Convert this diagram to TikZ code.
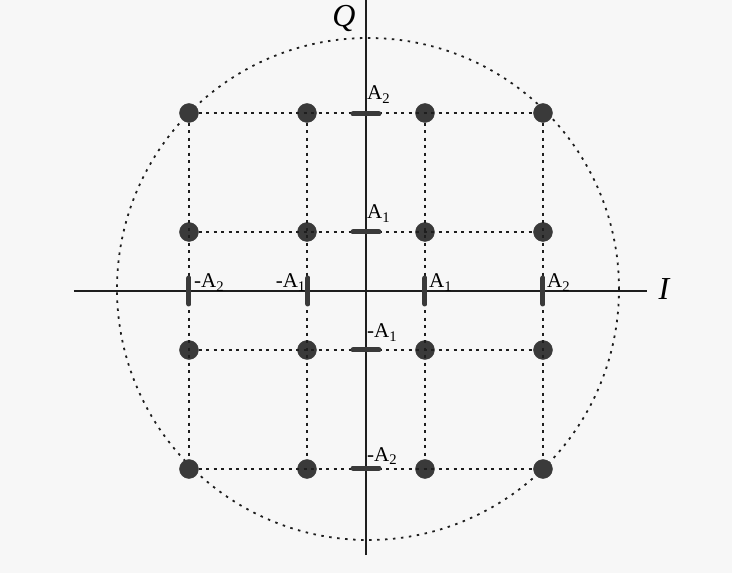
\documentclass[tikz,border=0pt]{standalone}
\usepackage{fontspec}
\setmainfont{Liberation Serif}
\begin{document}
\begin{tikzpicture}[x=1pt,y=1pt,
  dotpt/.style={circle,fill=ptcol,draw=ptcol,minimum size=19pt,inner sep=0pt},
  grid/.style={line width=1.8pt,dash pattern=on 3pt off 4.5pt,draw=lncol},
  ring/.style={line width=1.8pt,dash pattern=on 2.5pt off 5.5pt,draw=lncol},
  axis/.style={line width=1.2pt,draw=lncol},
  tickbar/.style={line width=5pt,line cap=round,draw=ptcol},
  lab/.style={font=\fontsize{21}{23}\selectfont,inner sep=0pt},
  axlab/.style={font=\fontsize{32}{34}\selectfont\itshape,inner sep=0pt}]
\definecolor{ptcol}{RGB}{58,58,58}
\definecolor{lncol}{RGB}{30,30,30}
\definecolor{bgcol}{RGB}{247,247,247}
\fill[bgcol] (-366,-282) rectangle (366,291);
\useasboundingbox (-366,-282) rectangle (366,291);
% circle
\draw[ring] (2,2) circle (251);
% constellation points
\foreach \i/\x in {1/-177,2/-59,3/59,4/177}
  \foreach \j/\y in {1/178,2/59,3/-59,4/-178}
    \node[dotpt] (p\i\j) at (\x,\y) {};
% dotted grid
\foreach \j in {1,2,3,4} \draw[grid] (p1\j) -- (p4\j);
\foreach \i in {1,2,3,4} \draw[grid] (p\i1) -- (p\i4);
% axes
\coordinate (qt) at (0,291);
\coordinate (qb) at (0,-264);
\coordinate (il) at (-292,0);
\coordinate (ir) at (281,0);
\draw[axis] (qb) -- (qt);
\draw[axis] (il) -- (ir);
\node[axlab] (qlab) at (-22,272) {Q};
\node[axlab] (ilab) at (298,2) {I};
% ticks on Q axis
\foreach \y in {177,59,-59,-177}
  \draw[tickbar] (-13,\y) -- (13,\y);
% ticks on I axis
\foreach \x in {-177,-58,59,177}
  \draw[tickbar] (\x,-13) -- (\x,13);
% labels Q axis
\node[lab,anchor=base west] (lq2) at (1,191) {A\textsubscript{2}};
\node[lab,anchor=base west] (lq1) at (1,72) {A\textsubscript{1}};
\node[lab,anchor=base west] (lqm1) at (1,-47) {-A\textsubscript{1}};
\node[lab,anchor=base west] (lqm2) at (1,-170) {-A\textsubscript{2}};
% labels I axis
\node[lab,anchor=base west] (lim2) at (-172,3) {-A\textsubscript{2}};
\node[lab,anchor=base east] (lim1) at (-60,3) {-A\textsubscript{1}};
\node[lab,anchor=base west] (li1) at (63,3) {A\textsubscript{1}};
\node[lab,anchor=base west] (li2) at (181,3) {A\textsubscript{2}};
\end{tikzpicture}
\end{document}
